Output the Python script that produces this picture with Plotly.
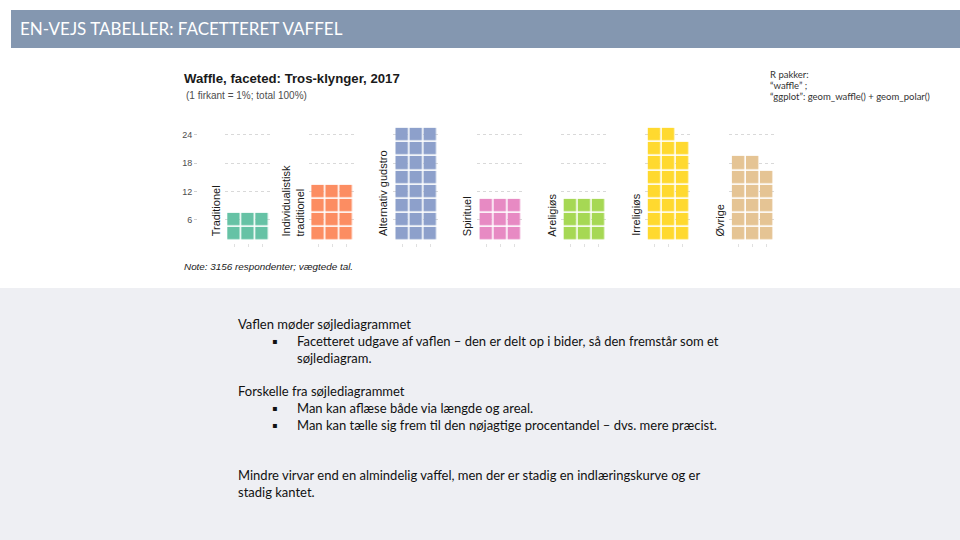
import plotly.graph_objects as go

# ---------------- data ----------------
categories = ["Traditionel", "Individualistisk<br>traditionel", "Alternativ gudstro",
              "Spirituel", "Areligiøs", "Irreligiøs", "Øvrige"]
values = [6, 12, 24, 9, 9, 23, 17]          # number of squares (1 square = 1%)
colors = ["#66C2A5", "#FC8D62", "#8DA0CB", "#E78AC3", "#A6D854", "#FFD92F", "#E5C494"]
n_cols = 3                                   # squares per row in each facet
y_tick_squares = [6, 12, 18, 24]             # tick labels (squares)

title = "Waffle, faceted: Tros-klynger, 2017"
subtitle = "(1 firkant = 1%; total 100%)"
note = "Note: 3156 respondenter; vægtede tal."
header = "EN-VEJS TABELLER: FACETTERET VAFFEL"
pkg_lines = ["R pakker:", "\u201cwaffle\u201d ;", "\u201cggplot\u201d: geom_waffle() + geom_polar()"]
body_lines = [
    ("Vaflen møder søjlediagrammet", False, 324),
    ("Facetteret udgave af vaflen – den er delt op i bider, så den fremstår som et", True, 341),
    ("søjlediagram.", None, 358),
    ("Forskelle fra søjlediagrammet", False, 391),
    ("Man kan aflæse både via længde og areal.", True, 408),
    ("Man kan tælle sig frem til den nøjagtige procentandel – dvs. mere præcist.", True, 425),
    ("Mindre virvar end en almindelig vaffel, men der er stadig en indlæringskurve og er", False, 475),
    ("stadig kantet.", False, 492),
]

W, H = 960, 540
def px(x):
    return x / W
def py(y):
    return 1 - y / H

n_rows = max((v + n_cols - 1) // n_cols for v in values)

fig = go.Figure()
layout = dict(
    width=W, height=H,
    margin=dict(l=0, r=0, t=0, b=0),
    paper_bgcolor="white",
    plot_bgcolor="rgba(0,0,0,0)",
    showlegend=False,
    font=dict(family="Liberation Sans, Arial, sans-serif", color="#1a1a1a"),
)

# panel geometry (pixels)
first_tile_left = 227.3
panel_step = 84.1
unit_px = 14.0
x_lo, x_hi = 0.3, 3.7

annotations = []
for i, (cat, val, col) in enumerate(zip(categories, values, colors)):
    z = []
    for r in range(1, n_rows + 1):
        row = []
        for c in range(1, n_cols + 1):
            idx = (r - 1) * n_cols + c
            row.append(1 if idx <= val else None)
        z.append(row)
    axname = "x" if i == 0 else f"x{i+1}"
    fig.add_trace(go.Heatmap(
        x=list(range(1, n_cols + 1)), y=list(range(1, n_rows + 1)), z=z,
        xaxis=axname, yaxis="y",
        colorscale=[[0, col], [1, col]], zmin=0, zmax=1, showscale=False,
        xgap=1.6, ygap=1.6, hoverinfo="skip",
    ))
    tile_left = first_tile_left + panel_step * i
    left = tile_left - (0.5 - x_lo) * unit_px
    right = left + (x_hi - x_lo) * unit_px
    key = "xaxis" if i == 0 else f"xaxis{i+1}"
    layout[key] = dict(
        domain=[px(left), px(right)], range=[x_lo, x_hi], anchor="y",
        showgrid=False, zeroline=False, showline=False,
        tickvals=list(range(1, n_cols + 1)), showticklabels=False,
        ticks="outside", ticklen=3, tickwidth=1, tickcolor="#e0e0e0",
        fixedrange=True,
    )
    annotations.append(dict(
        text=cat, textangle=-90, xref=("x domain" if i == 0 else f"x{i+1} domain"),
        yref="y domain", x=0, y=0, xanchor="right", yanchor="bottom",
        xshift=-1, yshift=5, showarrow=False, align="left",
        font=dict(size=11, color="#1a1a1a", family="Liberation Sans, Arial, sans-serif"),
    ))

row_px = 14.17
zero_px = 248.3
y_lo, y_hi = 0.35, 8.65
layout["yaxis"] = dict(
    domain=[py(zero_px - y_lo * row_px), py(zero_px - y_hi * row_px)],
    range=[y_lo, y_hi], anchor="free", position=px(197),
    tickvals=[t / n_cols for t in y_tick_squares], ticktext=[str(t) for t in y_tick_squares],
    showgrid=True, gridcolor="#d9d9d9", gridwidth=1, griddash="3px,3px",
    zeroline=False, showline=False,
    ticks="outside", ticklen=3, tickcolor="#d0d0d0",
    tickfont=dict(size=9, color="#4d4d4d"),
    fixedrange=True,
)

# texts of the chart
annotations += [
    dict(text=f"<b>{title}</b>", x=px(182), y=py(79), xref="paper", yref="paper",
         xanchor="left", yanchor="middle", showarrow=False,
         font=dict(size=13.2, color="#1a1a1a")),
    dict(text=subtitle, x=px(184), y=py(95), xref="paper", yref="paper",
         xanchor="left", yanchor="middle", showarrow=False,
         font=dict(size=10, color="#4d4d4d")),
    dict(text=f"<i>{note}</i>", x=px(182), y=py(266), xref="paper", yref="paper",
         xanchor="left", yanchor="middle", showarrow=False,
         font=dict(size=9.9, color="#1a1a1a")),
    dict(text=header, x=px(18), y=py(29), xref="paper", yref="paper",
         xanchor="left", yanchor="middle", showarrow=False,
         font=dict(size=17, color="white", family="Lato, Open Sans, sans-serif")),
]
for k, line in enumerate(pkg_lines):
    annotations.append(dict(text=line, x=px(768), y=py(75 + 11 * k), xref="paper", yref="paper",
                            xanchor="left", yanchor="middle", showarrow=False,
                            font=dict(size=9.5, color="#333333", family="Lato, Open Sans, sans-serif")))
for text, bullet, yy in body_lines:
    xx = 236 if bullet is False else 295
    annotations.append(dict(text=text, x=px(xx), y=py(yy), xref="paper", yref="paper",
                            xanchor="left", yanchor="middle", showarrow=False,
                            font=dict(size=13, color="#111111", family="Lato, Open Sans, sans-serif")))
    if bullet:
        annotations.append(dict(text="▪", x=px(274), y=py(yy), xref="paper", yref="paper",
                                xanchor="center", yanchor="middle", showarrow=False,
                                font=dict(size=8, color="#111111", family="DejaVu Sans, sans-serif")))

layout["annotations"] = annotations
layout["shapes"] = [
    dict(type="rect", xref="paper", yref="paper", x0=px(11), x1=1, y0=py(48), y1=py(10),
         fillcolor="#8497B0", line=dict(width=0), layer="below"),
    dict(type="rect", xref="paper", yref="paper", x0=0, x1=1, y0=0, y1=py(288),
         fillcolor="#EEEFF3", line=dict(width=0), layer="below"),
]
fig.update_layout(**layout)
fig.write_html("out.html", config={"displayModeBar": False},
               post_script="document.body.style.margin='0';document.body.style.overflow='hidden';")
